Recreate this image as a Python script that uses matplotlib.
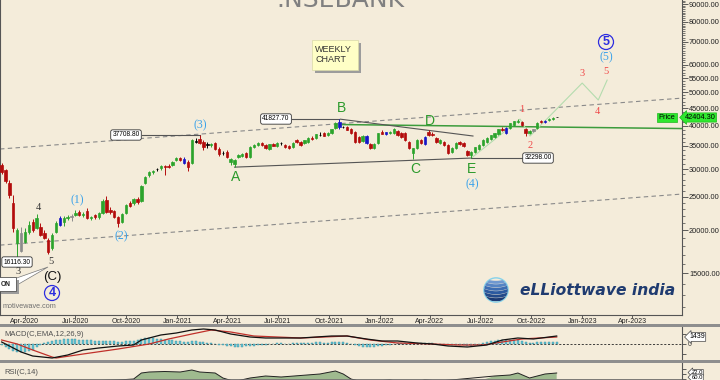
import numpy as np
import pandas as pd
import matplotlib
matplotlib.use('Agg')
import matplotlib.pyplot as plt
import matplotlib.dates as mdates
from matplotlib.patches import Rectangle, Circle, Polygon
from matplotlib.ticker import FixedLocator, FuncFormatter, NullFormatter

# weekly candles, Feb 2020 -> Nov 2022
opens = [
    30840, 29830, 27400, 24000, 18400, 19640, 18510, 19770, 21120, 20300,
    20430, 19640, 18750, 17790, 19770, 20710, 21100, 21690, 21830, 22100,
    22570, 22120, 22720, 21690, 22120, 21830, 22420, 24500, 22870, 22700,
    21800, 21120, 22420, 23950, 23950, 24600, 24280, 27360, 28850, 29440,
    30000, 30230, 30630, 30630, 30840, 31880, 32300, 32200, 31460, 31250,
    36100, 36660, 35930, 35300, 35300, 35690, 34300, 33500, 33620, 31460,
    31040, 32520, 32740, 33400, 32520, 34760, 35220, 35690, 35220, 34300,
    35460, 34990, 35700, 35220, 34990, 34760, 36420, 35930, 35690, 35930,
    36900, 36900, 37650, 38150, 37650, 38150, 39440, 39710, 39710, 39710,
    39180, 38410, 37150, 36170, 35690, 35460, 34520, 35690, 38410, 37900,
    38150, 38150, 38660, 38150, 38150, 35930, 33400, 34520, 36420, 35460,
    38410, 37900, 36900, 35690, 35930, 35220, 33620, 34520, 35930, 35690,
    33840, 32960, 33620, 34300, 35220, 35930, 36660, 37150, 37900, 39180,
    38150, 39440, 40240, 41050, 41050, 39180, 38150, 38660, 39440, 41330,
    41050, 41600, 41880, 42404.3]
highs = [
    31300, 30100, 27900, 25300, 20300, 20400, 20300, 21300, 21600, 22200,
    21000, 20000, 19000, 19600, 21200, 21900, 21900, 22100, 22300, 22870,
    22800, 22600, 23100, 22000, 22300, 22600, 24600, 25100, 23300, 22900,
    22000, 22400, 23800, 24300, 24700, 24900, 27000, 28700, 29600, 29900,
    30300, 30800, 30900, 31000, 31600, 32500, 32600, 32600, 31800, 36600,
    36800, 37708.8, 36300, 35900, 35700, 35900, 34700, 33900, 34000, 32300,
    32100, 33200, 33300, 33700, 35000, 35400, 35900, 35900, 35400, 35500,
    35800, 35900, 36000, 35500, 35300, 35900, 36700, 36200, 36500, 37100,
    37300, 37900, 38400, 38400, 38400, 39200, 41000, 41827.7, 40100, 39900,
    39400, 38700, 37500, 37600, 37700, 35700, 35600, 38200, 38800, 38500,
    38600, 39500, 38900, 38400, 38400, 36200, 34600, 36600, 36700, 37300,
    38800, 38300, 37200, 36600, 36100, 35500, 34700, 35900, 36100, 35900,
    34100, 33800, 34800, 35400, 36600, 37100, 37700, 38200, 39300, 39600,
    39600, 40800, 41400, 41840, 41300, 39400, 38900, 39200, 41100, 41600,
    41700, 42100, 42500, 42450]
lows = [
    29000, 27300, 24800, 19800, 16116.3, 17300, 18300, 19500, 19800, 20100,
    19200, 18800, 17100, 17500, 19600, 20500, 20500, 21400, 21200, 21900,
    21900, 21800, 21500, 21400, 21600, 21500, 22200, 22400, 22300, 21700,
    20404, 20900, 22300, 23300, 23700, 23800, 24100, 27100, 28400, 29100,
    29600, 29900, 28850, 30200, 30600, 31600, 31700, 31100, 29700, 31000,
    35600, 35400, 34000, 34500, 34700, 34100, 32700, 33000, 32300, 30900,
    30405, 32300, 32500, 32300, 32300, 34500, 35000, 35000, 34300, 34100,
    34900, 34800, 35300, 34600, 34300, 34500, 35700, 35000, 35500, 35800,
    36400, 36700, 37400, 37300, 37400, 38000, 39300, 39200, 39400, 38900,
    38000, 35600, 35700, 36000, 35400, 34300, 34200, 35500, 37800, 37600,
    37900, 37900, 37500, 37000, 36200, 34300, 32155, 34300, 35400, 35300,
    37500, 37400, 35800, 35500, 35100, 33200, 33300, 34300, 35300, 34800,
    32800, 32298.0, 33400, 34100, 35000, 35700, 36400, 37000, 37700, 38700,
    37900, 39200, 40000, 40800, 39900, 37386, 37900, 38400, 39300, 40800,
    40900, 41400, 41700, 42380]
closes = [
    29440, 27700, 25270, 20300, 20030, 17400, 19770, 20710, 20030, 21690,
    19380, 19000, 17320, 19380, 20980, 21690, 21690, 21830, 21900, 22420,
    22120, 22270, 21690, 21830, 21830, 22420, 24300, 22570, 22500, 21830,
    20980, 22270, 23640, 23500, 24600, 24100, 26820, 28470, 29440, 29700,
    30050, 30630, 30430, 30430, 31460, 32300, 31880, 31250, 30430, 36420,
    36000, 35690, 34760, 35400, 35460, 34300, 33180, 33400, 32520, 32100,
    31880, 32960, 33100, 32520, 34760, 35220, 35690, 35220, 34520, 35460,
    34990, 35690, 35690, 34760, 34520, 35690, 35930, 35220, 36300, 36900,
    36660, 37900, 37700, 37400, 38150, 39180, 40780, 41050, 39710, 38920,
    38150, 35930, 35930, 37400, 37400, 34520, 35460, 38150, 37900, 38410,
    38410, 39180, 37650, 37150, 36420, 34520, 34520, 36420, 35690, 37150,
    37650, 37650, 35930, 36420, 35220, 33400, 34520, 35690, 35460, 34990,
    32960, 33620, 34760, 35220, 36420, 36900, 37650, 38150, 39180, 38920,
    39440, 40780, 41330, 41330, 40240, 38150, 38660, 39180, 40780, 41050,
    41330, 41880, 42160, 42404.3]
# candle colours as drawn: g green, r red, b blue, k black, a grey
kinds = ("rrrrgaggrg" "rrrggbggag" "rgrgrggrrr" "rggrgrgggg" "kgrrggrbrg"
         "krrkgrrkrg" "gggrgggrrg" "rgkrrgrrgg" "rgkrgggbkr" "rrrgbrggrb"
         "ggrrrrggrb" "rrrgrrggrr" "rggggggggr" "bgggrrgagr" "bggk")

# MACD panel
macd_hist = [
    -200, -500, -900, -1200, -1400, -1500, -1500, -1300, -1000, -500,
    -100, 200, 300, 500, 700, 800, 900, 900, 900, 900,
    800, 800, 700, 700, 600, 600, 600, 500, 500, 500,
    400, 400, 500, 500, 600, 700, 900, 1000, 1000, 1000,
    900, 900, 800, 700, 700, 600, 500, 400, 300, 500,
    500, 400, 300, 200, 100, 0, -100, -200, -300, -400,
    -500, -500, -500, -400, -300, -300, -200, -100, -100, 0,
    0, 100, 100, 0, 0, 100, 200, 100, 200, 200,
    200, 300, 300, 200, 200, 300, 400, 400, 300, 200,
    0, -200, -400, -500, -500, -600, -500, -400, -300, -200,
    -100, 0, 100, 200, 200, 100, 0, 100, 200, 200,
    200, 100, 0, 0, -100, -200, -200, -200, -200, -200,
    -300, -300, -200, -100, 100, 300, 500, 600, 800, 800,
    800, 800, 800, 700, 500, 300, 200, 200, 300, 300,
    300, 300, 300, 300]
macd_wk = [0, 5, 8, 13, 17, 21, 25, 30, 34, 36, 41, 45, 49, 52, 55, 59, 64, 68, 77, 85,
           89, 94, 98, 102, 107, 111, 115, 120, 125, 129, 133, 137, 143]
macd_val = [360, -1440, -2160, -2520, -1980, -1080, -720, -360, -180, 720, 1620, 1980, 2520,
            2700, 2520, 1800, 1260, 1080, 1080, 1440, 1440, 900, 540, 540, 180, 0, -360, -540,
            -180, 720, 1080, 900, 1439]
sig_wk = [0, 4, 8, 13, 14, 21, 30, 38, 43, 49, 54, 59, 65, 77, 89, 95, 102, 111, 118, 124,
          129, 134, 143]
sig_val = [720, 0, -1080, -2340, -2520, -1800, -900, 0, 900, 1800, 2520, 2160, 1440, 1080,
           1440, 720, 180, 0, -180, -180, 360, 900, 1260]

# RSI panel (only the top of it is on the picture)
rsi_wk = [0, 5, 13, 20, 25, 30, 34, 36, 38, 42, 46, 49, 51, 55, 57, 60, 64, 68, 72, 77,
          82, 86, 88, 90, 93, 100, 105, 109, 113, 118, 123, 127, 131, 133, 136, 140, 143]
rsi_val = [30, 22, 42, 55, 57, 58, 60, 72, 74, 75, 74, 78, 74, 72, 62, 55, 62, 66, 64, 67,
           70, 76, 70, 60, 54, 58, 52, 58, 56, 52, 56, 66, 68, 72, 62, 70, 72]

# drawn lines
chan_dates = ['2020-02-16', '2023-06-30']
chan_upper = [34300, 48120]
chan_lower = [18100, 25420]
bd_dates = ['2021-10-22', '2022-06-18']
bd_prices = [41827.7, 37400]
ae_dates = ['2021-04-14', '2022-06-15']
ae_prices = [30405, 32298]
green_dates = ['2021-10-25', '2023-06-30']
green_prices = [40360, 39300]
proj_dates = ['2022-06-15', '2022-09-11', '2022-09-29', '2023-01-01', '2023-01-30', '2023-02-15']
proj_prices = [32298, 41840, 37386, 53190, 47520, 54250]

BG = '#f4ecda'
plt.rcParams['font.family'] = ['Liberation Sans', 'DejaVu Sans']

weeks = pd.date_range('2020-02-19', periods=len(closes), freq='7D')
t = mdates.date2num(weeks.to_pydatetime())
d = mdates.datestr2num
o, h, l, c = map(np.array, (opens, highs, lows, closes))


def fx(x):
    return x / 720


def fy(y):
    return 1 - y / 380


def P(x, y):
    return (x / 100, (380 - y) / 100)


fig = plt.figure(figsize=(7.2, 3.8), dpi=100, facecolor=BG)
ax = fig.add_axes([0, fy(315), fx(682), 315 / 380], facecolor=BG)
xl = (d('2020-02-16'), d('2023-06-30'))

# --- price panel
cmap = {'g': '#2ca42c', 'r': '#b30c0c', 'b': '#1616c8', 'k': '#000000', 'a': '#8c8c8c'}
cols = [cmap[k] for k in kinds]
ax.plot(d(chan_dates), chan_upper, color='#8a8a8a', lw=0.8, ls=(0, (4, 3)), zorder=1)
ax.plot(d(chan_dates), chan_lower, color='#8a8a8a', lw=0.8, ls=(0, (4, 3)), zorder=1)
ax.plot(d(green_dates), green_prices, color='#3c9c3c', lw=1.1, zorder=2)
ax.plot(d(bd_dates), bd_prices, color='#555555', lw=0.8, zorder=2)
ax.plot(d(ae_dates), ae_prices, color='#555555', lw=0.8, zorder=2)
ax.plot(d(proj_dates), proj_prices, color='#b4dcae', lw=0.8, zorder=2)
ax.plot([d('2020-10-29'), t[51]], [highs[51]] * 2, color='#555555', lw=0.8)
ax.plot([d('2021-07-26'), t[87]], [highs[87]] * 2, color='#555555', lw=0.8)
ax.plot([t[121], d('2022-09-14')], [lows[121]] * 2, color='#555555', lw=0.8)

ax.vlines(t, l, h, colors=cols, lw=0.7, zorder=3)
ax.bar(t, np.abs(c - o), bottom=np.minimum(o, c), width=4.2, color=cols,
       edgecolor=cols, linewidth=0.5, zorder=4)

ax.set_yscale('log')
ax.set_ylim(11370, 92430)
ax.set_xlim(*xl)
majors = [15000, 20000, 25000, 30000, 35000, 40000, 45000, 50000, 55000, 60000, 70000, 80000, 90000]
ax.yaxis.set_major_locator(FixedLocator(majors))
ax.yaxis.set_major_formatter(FuncFormatter(lambda v, p: f'{v:.2f}'))
ax.yaxis.set_minor_locator(FixedLocator([v for v in range(12000, 92001, 1000) if v not in majors]))
ax.yaxis.set_minor_formatter(NullFormatter())
ax.yaxis.tick_right()
ax.tick_params(axis='y', which='major', length=4, width=0.6, pad=1, labelsize=5.3,
               colors='#444444', labelcolor='#222222')
ax.tick_params(axis='y', which='minor', length=2, width=0.5, colors='#444444')
ax.xaxis.set_major_locator(mdates.MonthLocator(bymonth=[1, 4, 7, 10]))
ax.xaxis.set_major_formatter(mdates.DateFormatter('%b-%Y'))
ax.tick_params(axis='x', length=2, width=0.6, pad=0.3, labelsize=5, colors='#444444',
               labelcolor='#222222')
ax.spines['top'].set_visible(False)
for s in ('left', 'right', 'bottom'):
    ax.spines[s].set_color('#555555')
    ax.spines[s].set_linewidth(0.8)

# --- labels on the price panel (title is cut by the top edge, as in the source)
fig.text(fx(340), fy(7), '.NSEBANK', family='DejaVu Sans', fontsize=18, color='#808080',
         ha='center', va='baseline')
fig.add_artist(Rectangle(P(315, 73), 0.46, 0.30, transform=fig.dpi_scale_trans, fc='#9c9c9c', ec='none'))
fig.add_artist(Rectangle(P(312, 70), 0.46, 0.30, transform=fig.dpi_scale_trans, fc='#ffffc6', ec='#d9d9a8', lw=0.5))
fig.text(fx(315), fy(49), 'WEEKLY', fontsize=6.5, color='#333333', va='center')
fig.text(fx(315), fy(60), 'CHART', fontsize=6.5, color='#333333', va='center')

box = dict(boxstyle='round,pad=0.25,rounding_size=0.3', fc='white', ec='#333333', lw=0.6)
fig.text(fx(126), fy(135), f'{highs[51]:.2f}', fontsize=4.8, ha='center', va='center', bbox=box)
fig.text(fx(276), fy(119), f'{highs[87]:.2f}', fontsize=4.8, ha='center', va='center', bbox=box)
fig.text(fx(538), fy(158), f'{lows[121]:.2f}', fontsize=4.8, ha='center', va='center', bbox=box)
fig.text(fx(17), fy(262), f'{lows[4]:.2f}', fontsize=4.8, ha='center', va='center', bbox=box)

blue_l = '#3aa2ea'
serif = 'Liberation Serif'
for txt, x, y in [('(1)', 77, 200), ('(2)', 121, 236), ('(3)', 200, 125), ('(4)', 472, 184), ('(5)', 606, 57)]:
    fig.text(fx(x), fy(y), txt, family=serif, fontsize=8.5, color=blue_l, ha='center', va='center')
for txt, x, y in [('A', 236, 177), ('B', 341, 108), ('C', 415, 169), ('D', 430, 121), ('E', 472, 169)]:
    fig.text(fx(x), fy(y), txt, fontsize=10, color='#2b9a2b', ha='center', va='center')
for txt, x, y in [('1', 522, 109), ('2', 530, 145), ('3', 582, 73), ('4', 597, 111), ('5', 606, 71)]:
    fig.text(fx(x), fy(y), txt, family=serif, fontsize=7.5, color='#f04848', ha='center', va='center')
for txt, x, y in [('4', 38, 207), ('5', 51, 262), ('3', 18, 272)]:
    fig.text(fx(x), fy(y), txt, family=serif, fontsize=7.5, color='#333333', ha='center', va='center')
fig.text(fx(52), fy(277), '(C)', fontsize=9.5, color='#111111', ha='center', va='center')
for txt, x, y in [('4', 52, 293), ('5', 606, 42)]:
    fig.add_artist(Circle(P(x, y), 0.075, transform=fig.dpi_scale_trans, fc='none', ec='#2d2de0', lw=0.9))
    fig.text(fx(x), fy(y), txt, fontsize=9, fontweight='bold', color='#2d2de0', ha='center', va='center')

# callout box at the left edge
fig.add_artist(Polygon([P(11, 280), P(17, 285), P(48, 267)], closed=True, transform=fig.dpi_scale_trans,
                       fc='white', ec='#777777', lw=0.5))
fig.add_artist(Rectangle(P(1, 294), 0.18, 0.14, transform=fig.dpi_scale_trans, fc='#9c9c9c', ec='none'))
fig.add_artist(Rectangle(P(-2, 291), 0.18, 0.14, transform=fig.dpi_scale_trans, fc='white', ec='#555555', lw=0.6))
fig.text(fx(6), fy(284.5), 'ON', fontsize=4.8, fontweight='bold', color='#222222', ha='center', va='center')
fig.text(fx(3), fy(307), 'motivewave.com', fontsize=5.2, color='#707070', va='center')

# price tag
fig.text(fx(667), fy(117.5), 'Price', fontsize=5.3, ha='center', va='center',
         bbox=dict(boxstyle='square,pad=0.2', fc='#2ee82e', ec='#1fb81f', lw=0.5))
fig.text(fx(700), fy(117.5), f'{closes[-1]:.2f}', fontsize=5.3, ha='center', va='center',
         bbox=dict(boxstyle='larrow,pad=0.15', fc='#2ee82e', ec='#1fb81f', lw=0.5))

# logo
gax = fig.add_axes([fx(483), fy(303), 26 / 720, 26 / 380])
gax.set_xlim(-1.05, 1.05)
gax.set_ylim(-1.05, 1.05)
gax.axis('off')
clip = Circle((0, 0), 0.95, transform=gax.transData)
gx = np.linspace(-1, 1, 40)
for k, (y0, col) in enumerate(zip([0.62, 0.34, 0.06, -0.22, -0.5, -0.78],
                                  ['#6f98d0', '#5584c4', '#3d6db2', '#2c5aa0', '#234a8a', '#1b3a74'])):
    ln, = gax.plot(gx, y0 + 0.2 * gx ** 2, color=col, lw=2.2, solid_capstyle='butt')
    ln.set_clip_path(clip)
gax.add_patch(Circle((0, 0), 0.98, fc='none', ec='#86d2ea', lw=1.0))
fig.text(fx(520), fy(295), 'eLLiottwave india', family='DejaVu Sans', fontsize=11.2,
         fontweight='bold', fontstyle='italic', color='#1f3b70', va='baseline')

# --- separators
fig.add_artist(Rectangle((0, fy(326.5)), 1, 3 / 380, transform=fig.transFigure, fc='#8e8e8e', ec='none'))
fig.add_artist(Rectangle((0, fy(363)), 1, 3 / 380, transform=fig.transFigure, fc='#8e8e8e', ec='none'))

# --- MACD panel
axm = fig.add_axes([0, fy(360), fx(682), 33 / 380], facecolor=BG)
axm.bar(t, macd_hist, width=3.6, color='#63c5d5', edgecolor='#3a8fa0', linewidth=0.3, zorder=2)
axm.axhline(0, color='#222222', lw=0.6, ls=(0, (2.5, 2)), zorder=1)
axm.plot(t[sig_wk], sig_val, color='#c0302a', lw=0.9, zorder=3)
axm.plot(t[macd_wk], macd_val, color='#111111', lw=0.9, zorder=4)
axm.set_xlim(*xl)
axm.set_ylim(-2880, 3060)
axm.set_xticks([])
axm.yaxis.tick_right()
axm.set_yticks([-1800, 0, 1800])
axm.set_yticklabels(['', '0', ''])
axm.tick_params(axis='y', length=3, width=0.6, pad=1, labelsize=5, colors='#444444')
for s in ('top', 'bottom', 'left'):
    axm.spines[s].set_visible(False)
axm.spines['right'].set_color('#555555')
axm.text(0.006, 0.77, 'MACD(C,EMA,12,26,9)', transform=axm.transAxes, fontsize=5.5,
         color='#505050', va='center')
fig.text(fx(697), fy(337), f'{macd_val[-1]}', fontsize=5, ha='center', va='center',
         bbox=dict(boxstyle='larrow,pad=0.12', fc='white', ec='#444444', lw=0.5))

# --- RSI panel
axr = fig.add_axes([0, fy(397), fx(682), 34 / 380], facecolor=BG)
rt = t[rsi_wk]
rv = np.array(rsi_val)
axr.fill_between(rt, 60, rv, where=rv > 60, interpolate=True, color='#9fba8f', lw=0)
axr.plot(rt, rv, color='#222222', lw=0.7)
axr.axhline(60, color='#666666', lw=0.6)
axr.set_xlim(*xl)
axr.set_ylim(24, 92)
axr.set_xticks([])
axr.yaxis.tick_right()
axr.set_yticks([60, 70, 80])
axr.set_yticklabels([])
axr.tick_params(axis='y', length=3, width=0.6, colors='#444444')
for s in ('top', 'bottom', 'left'):
    axr.spines[s].set_visible(False)
axr.spines['right'].set_color('#555555')
axr.text(0.006, 0.73, 'RSI(C,14)', transform=axr.transAxes, fontsize=5.5, color='#505050', va='center')
fig.text(fx(697), fy(372.5), f'{rsi_val[-1]:.1f}', fontsize=4.2, ha='center', va='center',
         bbox=dict(boxstyle='larrow,pad=0.1', fc='white', ec='#444444', lw=0.5))
fig.text(fx(697), fy(377.3), '60.0', fontsize=4.2, ha='center', va='center',
         bbox=dict(boxstyle='larrow,pad=0.1', fc='white', ec='#444444', lw=0.5))

fig.savefig('out.png', dpi=100, facecolor=BG)
